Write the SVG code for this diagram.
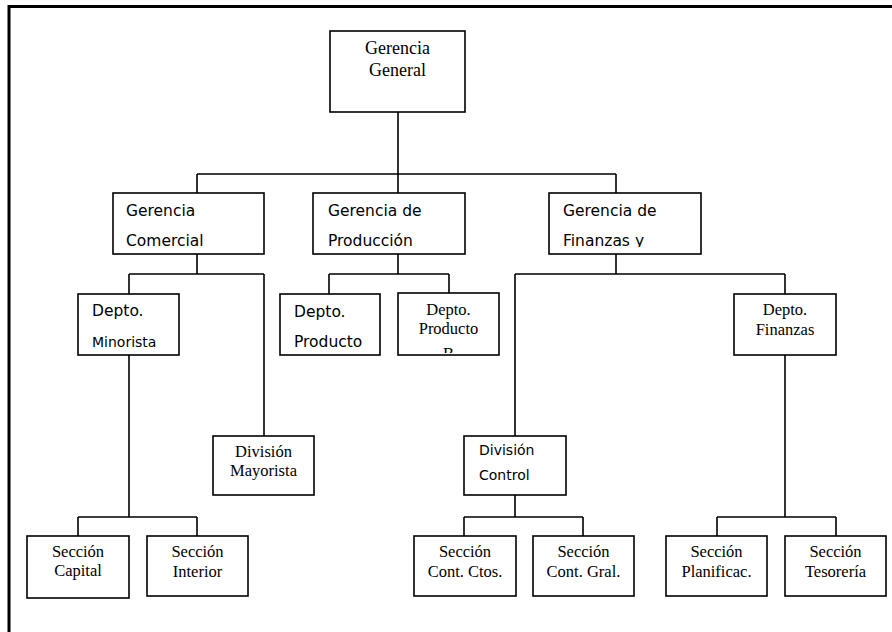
<svg xmlns="http://www.w3.org/2000/svg" width="892" height="632" viewBox="0 0 892 632">
<style>
.box{fill:#fff;stroke:#000;stroke-width:1.6}
.ln{fill:none;stroke:#000;stroke-width:1.6}
.frame{fill:none;stroke:#000;stroke-width:3}
.sf{font-family:"Liberation Serif","Times New Roman",serif;font-size:16.5px;fill:#000;text-anchor:middle}
.ss{font-family:"DejaVu Sans",Verdana,sans-serif;font-size:15.5px;fill:#000}
</style>
<defs>
<clipPath id="cpB"><rect x="398" y="293" width="101" height="60"/></clipPath>
<clipPath id="cpF"><rect x="549" y="193" width="152" height="54"/></clipPath>
</defs>
<rect width="892" height="632" fill="#fff"/>
<path class="frame" d="M9,632 V6.5 H892"/>
<g id="connectors">
<path class="ln" d="M398,112 V174 M197,174 H616 M197,174 V193 M398,174 V193 M616,174 V193"/>
<path class="ln" d="M197,254 V274 M129,274 H264 M129,274 V294 M264,274 V436"/>
<path class="ln" d="M398,254 V274 M329,274 H449 M329,274 V294 M449,274 V294"/>
<path class="ln" d="M616,254 V274 M515,274 H785 M515,274 V436 M785,274 V294"/>
<path class="ln" d="M129,355 V517 M78,517 H197 M78,517 V536 M197,517 V536"/>
<path class="ln" d="M515,495 V517 M464,517 H583 M464,517 V536 M583,517 V536"/>
<path class="ln" d="M785,355 V517 M717,517 H836 M717,517 V536 M836,517 V536"/>
</g>
<g id="gerencia-general">
<rect class="box" x="330" y="31" width="135" height="81"/>
<text class="sf" style="font-size:18px" x="397.5" y="54">Gerencia</text>
<text class="sf" style="font-size:18px" x="397.5" y="76">General</text>
</g>
<g id="gerencia-comercial">
<rect class="box" x="113" y="193" width="151" height="61"/>
<text class="ss" x="126" y="216">Gerencia</text>
<text class="ss" x="126" y="246">Comercial</text>
</g>
<g id="gerencia-produccion">
<rect class="box" x="313" y="193" width="152" height="61"/>
<text class="ss" x="328" y="216">Gerencia de</text>
<text class="ss" x="328" y="246">Producción</text>
</g>
<g id="gerencia-finanzas">
<rect class="box" x="549" y="193" width="152" height="61"/>
<text class="ss" x="563" y="216">Gerencia de</text>
<text class="ss" x="563" y="246" clip-path="url(#cpF)">Finanzas y</text>
</g>
<g id="depto-minorista">
<rect class="box" x="78" y="294" width="101" height="61"/>
<text class="ss" x="92" y="316">Depto.</text>
<text class="ss" style="font-size:14px" x="92" y="347">Minorista</text>
</g>
<g id="depto-producto">
<rect class="box" x="280" y="294" width="100" height="61"/>
<text class="ss" x="294" y="317">Depto.</text>
<text class="ss" x="294" y="347">Producto</text>
</g>
<g id="depto-producto-b">
<rect class="box" x="398" y="293" width="101" height="62"/>
<text class="sf" x="448.5" y="315">Depto.</text>
<text class="sf" x="448.5" y="334">Producto</text>
<text class="sf" x="448.5" y="359" clip-path="url(#cpB)">B</text>
</g>
<g id="depto-finanzas">
<rect class="box" x="734" y="294" width="102" height="61"/>
<text class="sf" x="785" y="315">Depto.</text>
<text class="sf" x="785" y="335">Finanzas</text>
</g>
<g id="division-mayorista">
<rect class="box" x="213" y="436" width="101" height="59"/>
<text class="sf" x="263.5" y="457">División</text>
<text class="sf" x="263.5" y="476">Mayorista</text>
</g>
<g id="division-control">
<rect class="box" x="464" y="436" width="102" height="59"/>
<text class="ss" style="font-size:14px" x="479" y="455">División</text>
<text class="ss" style="font-size:14px" x="479" y="480">Control</text>
</g>
<g id="seccion-capital">
<rect class="box" x="27" y="536" width="102" height="62"/>
<text class="sf" x="78" y="557">Sección</text>
<text class="sf" x="78" y="576">Capital</text>
</g>
<g id="seccion-interior">
<rect class="box" x="147" y="536" width="101" height="60"/>
<text class="sf" x="197.5" y="557">Sección</text>
<text class="sf" x="197.5" y="577">Interior</text>
</g>
<g id="seccion-cont-ctos">
<rect class="box" x="414" y="536" width="102" height="60"/>
<text class="sf" x="465" y="557">Sección</text>
<text class="sf" x="465" y="577">Cont. Ctos.</text>
</g>
<g id="seccion-cont-gral">
<rect class="box" x="533" y="536" width="101" height="60"/>
<text class="sf" x="583.5" y="557">Sección</text>
<text class="sf" x="583.5" y="577">Cont. Gral.</text>
</g>
<g id="seccion-planificac">
<rect class="box" x="666" y="536" width="101" height="60"/>
<text class="sf" x="716.5" y="557">Sección</text>
<text class="sf" x="716.5" y="577">Planificac.</text>
</g>
<g id="seccion-tesoreria">
<rect class="box" x="785" y="536" width="101" height="60"/>
<text class="sf" x="835.5" y="557">Sección</text>
<text class="sf" x="835.5" y="577">Tesorería</text>
</g>
</svg>
